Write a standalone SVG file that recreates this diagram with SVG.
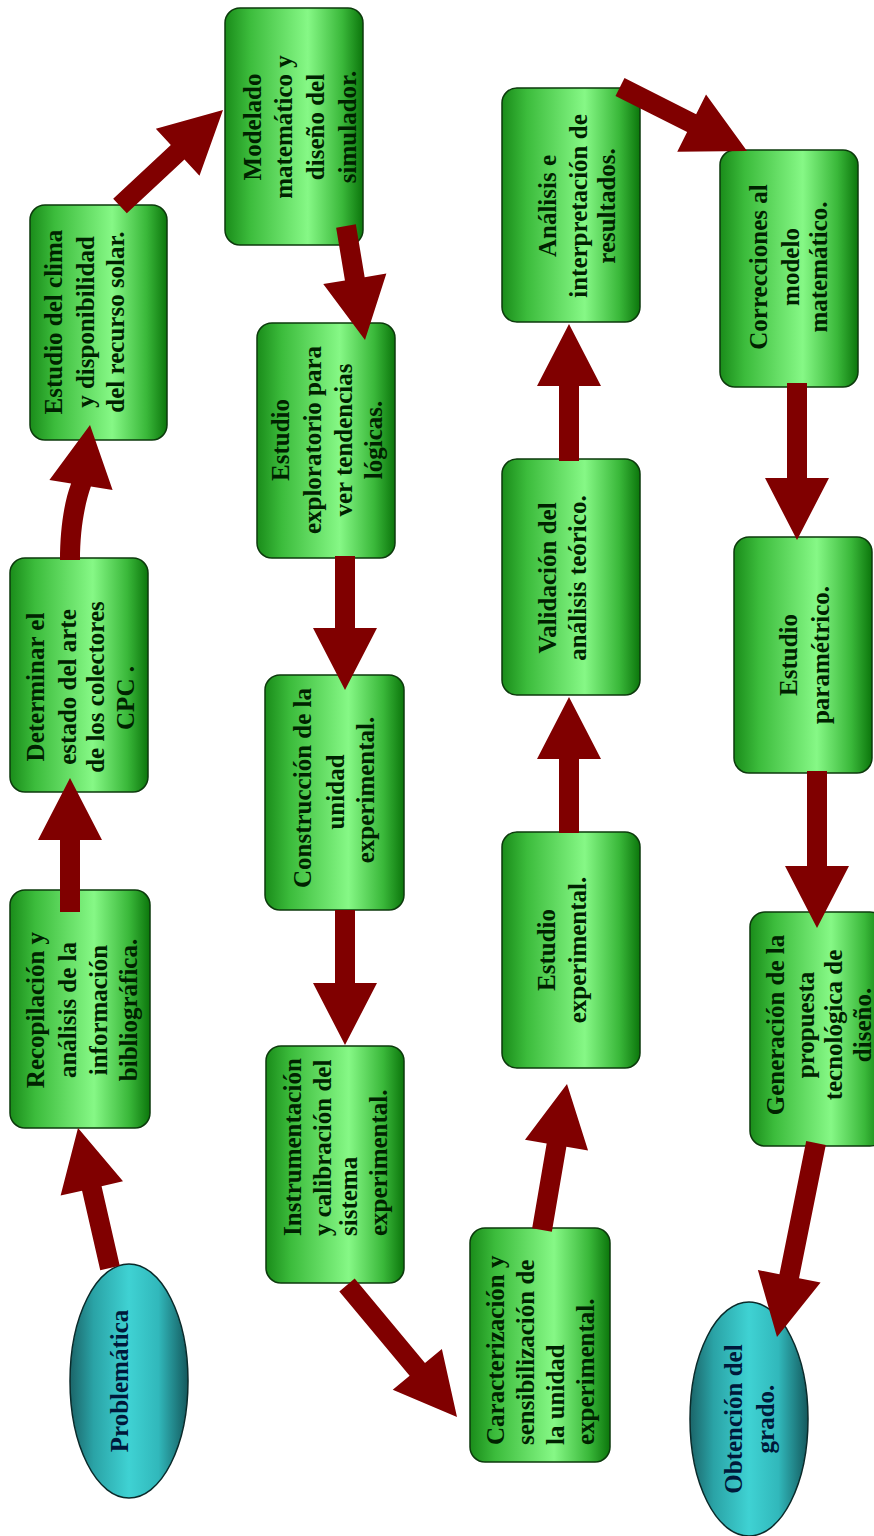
<svg xmlns="http://www.w3.org/2000/svg" width="874" height="1536" viewBox="0 0 874 1536">
<defs>
<linearGradient id="gBox" x1="0" y1="0" x2="1" y2="0">
<stop offset="0" stop-color="#1a8c1a"/>
<stop offset="0.18" stop-color="#3cbc3c"/>
<stop offset="0.6" stop-color="#86f886"/>
<stop offset="0.85" stop-color="#3ab83a"/>
<stop offset="1" stop-color="#0c760c"/>
</linearGradient>
<linearGradient id="gEll" x1="0" y1="0" x2="1" y2="0">
<stop offset="0" stop-color="#1b6569"/>
<stop offset="0.2" stop-color="#2aa3a6"/>
<stop offset="0.5" stop-color="#3fd2d3"/>
<stop offset="0.75" stop-color="#31b8bb"/>
<stop offset="1" stop-color="#14595d"/>
</linearGradient>
</defs>
<style>
.box{fill:url(#gBox);stroke:#0c3a0c;stroke-width:1.5}
.ell{fill:url(#gEll);stroke:#0a2a2a;stroke-width:1.5}
.t{font-family:"Liberation Serif","Times New Roman",serif;font-weight:bold;font-size:25px;fill:#002200;dominant-baseline:central;text-anchor:middle}
.s{text-anchor:start}
.e{fill:#00183a}
.arr{fill:#800000}
</style>
<rect width="874" height="1536" fill="#ffffff"/>

<g id="problematica">
<ellipse class="ell" cx="129" cy="1381" rx="59" ry="117"/>
<text class="t e" transform="translate(119,1381) rotate(-90)">Problemática</text>
</g>

<g id="recopilacion">
<rect class="box" x="10" y="890" width="140" height="238" rx="15"/>
<text class="t" transform="translate(35,1010) rotate(-90)">Recopilación y</text>
<text class="t" transform="translate(67,1010) rotate(-90)">análisis de la</text>
<text class="t" transform="translate(98,1010) rotate(-90)">información</text>
<text class="t" transform="translate(128,1010) rotate(-90)">bibliográfica.</text>
</g>

<g id="determinar">
<rect class="box" x="10" y="558" width="138" height="234" rx="15"/>
<text class="t" transform="translate(35,687) rotate(-90)">Determinar el</text>
<text class="t" transform="translate(67,687) rotate(-90)">estado del arte</text>
<text class="t" transform="translate(95,687) rotate(-90)">de los colectores</text>
<text class="t" transform="translate(125,698) rotate(-90)">CPC .</text>
</g>

<g id="clima">
<rect class="box" x="30" y="205" width="137" height="235" rx="15"/>
<text class="t" transform="translate(53,322) rotate(-90)">Estudio del clima</text>
<text class="t" transform="translate(85,322) rotate(-90)">y disponibilidad</text>
<text class="t" transform="translate(115,322) rotate(-90)">del recurso solar.</text>
</g>

<g id="modelado">
<rect class="box" x="225" y="8" width="138" height="237" rx="15"/>
<text class="t" transform="translate(252,127) rotate(-90)">Modelado</text>
<text class="t" transform="translate(283,127) rotate(-90)">matemático y</text>
<text class="t" transform="translate(315,127) rotate(-90)">diseño del</text>
<text class="t" transform="translate(347,127) rotate(-90)">simulador.</text>
</g>

<g id="exploratorio">
<rect class="box" x="257" y="323" width="138" height="235" rx="15"/>
<text class="t" transform="translate(280,440) rotate(-90)">Estudio</text>
<text class="t" transform="translate(312,440) rotate(-90)">exploratorio para</text>
<text class="t" transform="translate(343,440) rotate(-90)">ver tendencias</text>
<text class="t" transform="translate(373,440) rotate(-90)">lógicas.</text>
</g>

<g id="construccion">
<rect class="box" x="265" y="675" width="139" height="235" rx="15"/>
<text class="t" transform="translate(302,788) rotate(-90)">Construcción de la</text>
<text class="t" transform="translate(335,792) rotate(-90)">unidad</text>
<text class="t" transform="translate(365,790) rotate(-90)">experimental.</text>
</g>

<g id="instrumentacion">
<rect class="box" x="266" y="1046" width="138" height="237" rx="15"/>
<text class="t s" transform="translate(292,1236) rotate(-90)">Instrumentación</text>
<text class="t s" transform="translate(322,1236) rotate(-90)">y calibración del</text>
<text class="t s" transform="translate(348,1236) rotate(-90)">sistema</text>
<text class="t s" transform="translate(378,1236) rotate(-90)">experimental.</text>
</g>

<g id="caracterizacion">
<rect class="box" x="470" y="1228" width="140" height="234" rx="15"/>
<text class="t s" transform="translate(495,1445) rotate(-90)">Caracterización y</text>
<text class="t s" transform="translate(525,1445) rotate(-90)">sensibilización de</text>
<text class="t s" transform="translate(555,1445) rotate(-90)">la unidad</text>
<text class="t s" transform="translate(585,1445) rotate(-90)">experimental.</text>
</g>

<g id="experimental">
<rect class="box" x="502" y="832" width="138" height="236" rx="15"/>
<text class="t" transform="translate(546,950) rotate(-90)">Estudio</text>
<text class="t" transform="translate(577,950) rotate(-90)">experimental.</text>
</g>

<g id="validacion">
<rect class="box" x="502" y="459" width="138" height="236" rx="15"/>
<text class="t" transform="translate(547,578) rotate(-90)">Validación del</text>
<text class="t" transform="translate(577,578) rotate(-90)">análisis teórico.</text>
</g>

<g id="analisis">
<rect class="box" x="502" y="88" width="138" height="234" rx="15"/>
<text class="t" transform="translate(547,206) rotate(-90)">Análisis e</text>
<text class="t" transform="translate(578,206) rotate(-90)">interpretación de</text>
<text class="t" transform="translate(606,206) rotate(-90)">resultados.</text>
</g>

<g id="correcciones">
<rect class="box" x="720" y="150" width="138" height="237" rx="15"/>
<text class="t" transform="translate(758,267) rotate(-90)">Correcciones al</text>
<text class="t" transform="translate(790,267) rotate(-90)">modelo</text>
<text class="t" transform="translate(818,267) rotate(-90)">matemático.</text>
</g>

<g id="parametrico">
<rect class="box" x="734" y="537" width="138" height="236" rx="15"/>
<text class="t" transform="translate(788,655) rotate(-90)">Estudio</text>
<text class="t" transform="translate(820,655) rotate(-90)">paramétrico.</text>
</g>

<g id="generacion">
<rect class="box" x="750" y="912" width="135" height="234" rx="15"/>
<text class="t" transform="translate(775,1025) rotate(-90)">Generación de la</text>
<text class="t" transform="translate(805,1025) rotate(-90)">propuesta</text>
<text class="t" transform="translate(833,1025) rotate(-90)">tecnológica de</text>
<text class="t" transform="translate(862,1025) rotate(-90)">diseño.</text>
</g>

<g id="obtencion">
<ellipse class="ell" cx="749" cy="1419" rx="59" ry="117"/>
<text class="t e" transform="translate(733,1419) rotate(-90)">Obtención del</text>
<text class="t e" transform="translate(765,1419) rotate(-90)">grado.</text>
</g>

<g id="connectors">
<polygon class="arr" points="119.75,1265.77 101.56,1186.21 123.01,1181.31 78,1128 60.61,1195.57 82.06,1190.67 100.25,1270.23"/>
<polygon class="arr" points="80,912 80,840 102,840 70,778 38,840 60,840 60,912"/>
<path class="arr" d="M60,560 C60,530 64,502 71.1,483.4 L49.4,479.9 L90,425 L112.6,490.1 L90.9,486.6 C84,506 80,532 80,560 Z"/>
<polygon class="arr" points="126.82,213.32 184.47,159.58 199.47,175.68 223,110 155.83,128.86 170.83,144.96 113.18,198.69"/>
<polygon class="arr" points="336.14,227.64 344.95,280.48 323.25,284.10 365,340 386.37,273.58 364.67,277.20 355.86,224.36"/>
<polygon class="arr" points="355,556 355,628 377,628 345,690 313,628 335,628 335,556"/>
<polygon class="arr" points="355,910 355,983 377,983 345,1045 313,983 335,983 335,910"/>
<polygon class="arr" points="339.32,1291.40 409.63,1375.77 392.73,1389.86 457,1417 441.89,1348.88 424.99,1362.97 354.68,1278.60"/>
<polygon class="arr" points="551.86,1231.69 566.39,1146.80 588.07,1150.51 567,1084 524.99,1139.71 546.67,1143.42 532.14,1228.31"/>
<polygon class="arr" points="579,833 579,759 601,759 569,697 537,759 559,759 559,833"/>
<polygon class="arr" points="579,461 579,386 601,386 569,324 537,386 559,386 559,461"/>
<polygon class="arr" points="615.50,95.93 687.13,132.02 677.23,151.67 747,151 706.03,94.51 696.13,114.16 624.50,78.07"/>
<polygon class="arr" points="807,383 807,478 829,478 797,540 765,478 787,478 787,383"/>
<polygon class="arr" points="827,771 827,866 849,866 817,928 785,866 807,866 807,771"/>
<polygon class="arr" points="806.20,1141.03 779.42,1274.25 757.85,1269.91 777,1337 820.59,1282.53 799.02,1278.19 825.80,1144.97"/>
</g>
</svg>
